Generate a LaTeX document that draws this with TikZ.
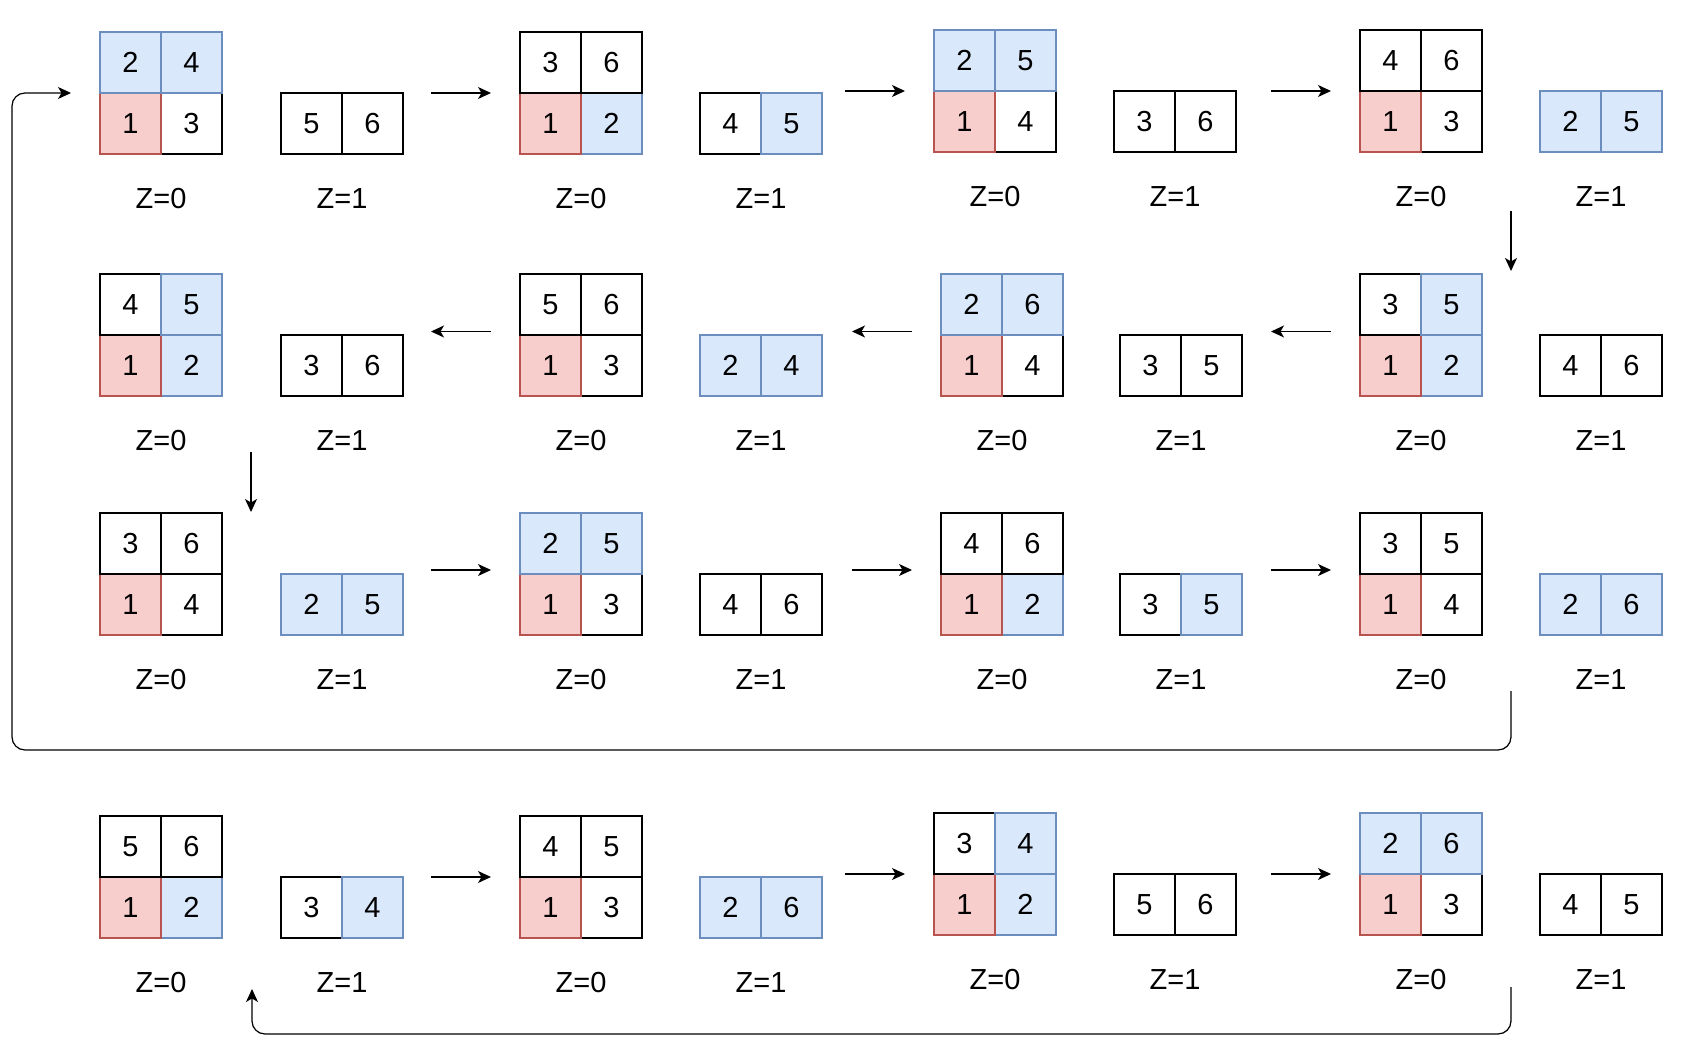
\documentclass[tikz,border=0pt]{standalone}
\usepackage{fontspec}
\setmainfont{Liberation Sans}
\usetikzlibrary{arrows.meta}

\begin{document}
\begin{tikzpicture}[x=0.02cm,y=-0.02cm,
  cell/.style={draw,line width=1.4pt,minimum size=1.22cm,inner sep=0pt,font=\fontsize{16.5}{19}\selectfont},
  wc/.style={cell,draw=cw,fill=cfw},
  bc/.style={cell,draw=cb,fill=cfb},
  rc/.style={cell,draw=cr,fill=cfr},
  lab/.style={inner sep=0pt,font=\fontsize{16.5}{19}\selectfont},
  flow/.style={->,line width=0.7pt,rounded corners=0.26cm},
  >={Stealth[length=0.26cm,width=0.24cm,inset=0.07cm]}]
%
\useasboundingbox (0,0) rectangle (1686,1060);
%
\definecolor{cw}{rgb}{0.0,0.0,0.0}
\definecolor{cfw}{rgb}{1.0,1.0,1.0}
\definecolor{cb}{rgb}{0.424,0.557,0.749}
\definecolor{cfb}{rgb}{0.855,0.910,0.988}
\definecolor{cr}{rgb}{0.722,0.329,0.314}
\definecolor{cfr}{rgb}{0.973,0.808,0.8}
%
% row 1
\node[wc] (r1g1br) at (191.5,123.5) {3};
\node[rc] (r1g1bl) at (130.5,123.5) {1};
\node[bc] (r1g1tl) at (130.5,62.5) {2};
\node[bc] (r1g1tr) at (191.5,62.5) {4};
\node[wc] (r1g1l) at (311.5,123.5) {5};
\node[wc] (r1g1r) at (372.5,123.5) {6};
\node[lab] (r1g1z0) at (161,199) {Z=0};
\node[lab] (r1g1z1) at (342,199) {Z=1};
%
\node[bc] (r1g2br) at (611.5,123.5) {2};
\node[rc] (r1g2bl) at (550.5,123.5) {1};
\node[wc] (r1g2tl) at (550.5,62.5) {3};
\node[wc] (r1g2tr) at (611.5,62.5) {6};
\node[wc] (r1g2l) at (730.5,123.5) {4};
\node[bc] (r1g2r) at (791.5,123.5) {5};
\node[lab] (r1g2z0) at (581,199) {Z=0};
\node[lab] (r1g2z1) at (761,199) {Z=1};
%
\node[wc] (r1g3br) at (1025.5,121.5) {4};
\node[rc] (r1g3bl) at (964.5,121.5) {1};
\node[bc] (r1g3tl) at (964.5,60.5) {2};
\node[bc] (r1g3tr) at (1025.5,60.5) {5};
\node[wc] (r1g3l) at (1144.5,121.5) {3};
\node[wc] (r1g3r) at (1205.5,121.5) {6};
\node[lab] (r1g3z0) at (995,197) {Z=0};
\node[lab] (r1g3z1) at (1175,197) {Z=1};
%
\node[wc] (r1g4br) at (1451.5,121.5) {3};
\node[rc] (r1g4bl) at (1390.5,121.5) {1};
\node[wc] (r1g4tl) at (1390.5,60.5) {4};
\node[wc] (r1g4tr) at (1451.5,60.5) {6};
\node[bc] (r1g4l) at (1570.5,121.5) {2};
\node[bc] (r1g4r) at (1631.5,121.5) {5};
\node[lab] (r1g4z0) at (1421,197) {Z=0};
\node[lab] (r1g4z1) at (1601,197) {Z=1};
%
% row 2
\node[bc] (r2g1br) at (191.5,365.5) {2};
\node[rc] (r2g1bl) at (130.5,365.5) {1};
\node[wc] (r2g1tl) at (130.5,304.5) {4};
\node[bc] (r2g1tr) at (191.5,304.5) {5};
\node[wc] (r2g1l) at (311.5,365.5) {3};
\node[wc] (r2g1r) at (372.5,365.5) {6};
\node[lab] (r2g1z0) at (161,441) {Z=0};
\node[lab] (r2g1z1) at (342,441) {Z=1};
%
\node[wc] (r2g2br) at (611.5,365.5) {3};
\node[rc] (r2g2bl) at (550.5,365.5) {1};
\node[wc] (r2g2tl) at (550.5,304.5) {5};
\node[wc] (r2g2tr) at (611.5,304.5) {6};
\node[bc] (r2g2l) at (730.5,365.5) {2};
\node[bc] (r2g2r) at (791.5,365.5) {4};
\node[lab] (r2g2z0) at (581,441) {Z=0};
\node[lab] (r2g2z1) at (761,441) {Z=1};
%
\node[wc] (r2g3br) at (1032.5,365.5) {4};
\node[rc] (r2g3bl) at (971.5,365.5) {1};
\node[bc] (r2g3tl) at (971.5,304.5) {2};
\node[bc] (r2g3tr) at (1032.5,304.5) {6};
\node[wc] (r2g3l) at (1150.5,365.5) {3};
\node[wc] (r2g3r) at (1211.5,365.5) {5};
\node[lab] (r2g3z0) at (1002,441) {Z=0};
\node[lab] (r2g3z1) at (1181,441) {Z=1};
%
\node[bc] (r2g4br) at (1451.5,365.5) {2};
\node[rc] (r2g4bl) at (1390.5,365.5) {1};
\node[wc] (r2g4tl) at (1390.5,304.5) {3};
\node[bc] (r2g4tr) at (1451.5,304.5) {5};
\node[wc] (r2g4l) at (1570.5,365.5) {4};
\node[wc] (r2g4r) at (1631.5,365.5) {6};
\node[lab] (r2g4z0) at (1421,441) {Z=0};
\node[lab] (r2g4z1) at (1601,441) {Z=1};
%
% row 3
\node[wc] (r3g1br) at (191.5,604.5) {4};
\node[rc] (r3g1bl) at (130.5,604.5) {1};
\node[wc] (r3g1tl) at (130.5,543.5) {3};
\node[wc] (r3g1tr) at (191.5,543.5) {6};
\node[bc] (r3g1l) at (311.5,604.5) {2};
\node[bc] (r3g1r) at (372.5,604.5) {5};
\node[lab] (r3g1z0) at (161,680) {Z=0};
\node[lab] (r3g1z1) at (342,680) {Z=1};
%
\node[wc] (r3g2br) at (611.5,604.5) {3};
\node[rc] (r3g2bl) at (550.5,604.5) {1};
\node[bc] (r3g2tl) at (550.5,543.5) {2};
\node[bc] (r3g2tr) at (611.5,543.5) {5};
\node[wc] (r3g2l) at (730.5,604.5) {4};
\node[wc] (r3g2r) at (791.5,604.5) {6};
\node[lab] (r3g2z0) at (581,680) {Z=0};
\node[lab] (r3g2z1) at (761,680) {Z=1};
%
\node[bc] (r3g3br) at (1032.5,604.5) {2};
\node[rc] (r3g3bl) at (971.5,604.5) {1};
\node[wc] (r3g3tl) at (971.5,543.5) {4};
\node[wc] (r3g3tr) at (1032.5,543.5) {6};
\node[wc] (r3g3l) at (1150.5,604.5) {3};
\node[bc] (r3g3r) at (1211.5,604.5) {5};
\node[lab] (r3g3z0) at (1002,680) {Z=0};
\node[lab] (r3g3z1) at (1181,680) {Z=1};
%
\node[wc] (r3g4br) at (1451.5,604.5) {4};
\node[rc] (r3g4bl) at (1390.5,604.5) {1};
\node[wc] (r3g4tl) at (1390.5,543.5) {3};
\node[wc] (r3g4tr) at (1451.5,543.5) {5};
\node[bc] (r3g4l) at (1570.5,604.5) {2};
\node[bc] (r3g4r) at (1631.5,604.5) {6};
\node[lab] (r3g4z0) at (1421,680) {Z=0};
\node[lab] (r3g4z1) at (1601,680) {Z=1};
%
% row 4
\node[bc] (r4g1br) at (191.5,907.5) {2};
\node[rc] (r4g1bl) at (130.5,907.5) {1};
\node[wc] (r4g1tl) at (130.5,846.5) {5};
\node[wc] (r4g1tr) at (191.5,846.5) {6};
\node[wc] (r4g1l) at (311.5,907.5) {3};
\node[bc] (r4g1r) at (372.5,907.5) {4};
\node[lab] (r4g1z0) at (161,983) {Z=0};
\node[lab] (r4g1z1) at (342,983) {Z=1};
%
\node[wc] (r4g2br) at (611.5,907.5) {3};
\node[rc] (r4g2bl) at (550.5,907.5) {1};
\node[wc] (r4g2tl) at (550.5,846.5) {4};
\node[wc] (r4g2tr) at (611.5,846.5) {5};
\node[bc] (r4g2l) at (730.5,907.5) {2};
\node[bc] (r4g2r) at (791.5,907.5) {6};
\node[lab] (r4g2z0) at (581,983) {Z=0};
\node[lab] (r4g2z1) at (761,983) {Z=1};
%
\node[bc] (r4g3br) at (1025.5,904.5) {2};
\node[rc] (r4g3bl) at (964.5,904.5) {1};
\node[wc] (r4g3tl) at (964.5,843.5) {3};
\node[bc] (r4g3tr) at (1025.5,843.5) {4};
\node[wc] (r4g3l) at (1144.5,904.5) {5};
\node[wc] (r4g3r) at (1205.5,904.5) {6};
\node[lab] (r4g3z0) at (995,980) {Z=0};
\node[lab] (r4g3z1) at (1175,980) {Z=1};
%
\node[wc] (r4g4br) at (1451.5,904.5) {3};
\node[rc] (r4g4bl) at (1390.5,904.5) {1};
\node[bc] (r4g4tl) at (1390.5,843.5) {2};
\node[bc] (r4g4tr) at (1451.5,843.5) {6};
\node[wc] (r4g4l) at (1570.5,904.5) {4};
\node[wc] (r4g4r) at (1631.5,904.5) {5};
\node[lab] (r4g4z0) at (1421,980) {Z=0};
\node[lab] (r4g4z1) at (1601,980) {Z=1};
%
% arrow ends
\coordinate (p11) at (431,93); \coordinate (q11) at (491,93);
\coordinate (p12) at (845,91); \coordinate (q12) at (905,91);
\coordinate (p13) at (1271,91); \coordinate (q13) at (1331,91);
\coordinate (pd1) at (1511,211); \coordinate (qd1) at (1511,271);
\coordinate (p21) at (491,331.5); \coordinate (q21) at (431,331.5);
\coordinate (p22) at (912,331.5); \coordinate (q22) at (852,331.5);
\coordinate (p23) at (1331,331.5); \coordinate (q23) at (1271,331.5);
\coordinate (pd2) at (251,452); \coordinate (qd2) at (251,512);
\coordinate (p31) at (431,570); \coordinate (q31) at (491,570);
\coordinate (p32) at (852,570); \coordinate (q32) at (912,570);
\coordinate (p33) at (1271,570); \coordinate (q33) at (1331,570);
\coordinate (pl1) at (1511,691); \coordinate (ql1) at (71,93);
\coordinate (p41) at (431,877); \coordinate (q41) at (491,877);
\coordinate (p42) at (845,874); \coordinate (q42) at (905,874);
\coordinate (p43) at (1271,874); \coordinate (q43) at (1331,874);
\coordinate (pl2) at (1511,987); \coordinate (ql2) at (252,989);
%
\draw[flow] (p11) -- (q11);
\draw[flow] (p12) -- (q12);
\draw[flow] (p13) -- (q13);
\draw[flow] (pd1) -- (qd1);
\draw[flow] (p21) -- (q21);
\draw[flow] (p22) -- (q22);
\draw[flow] (p23) -- (q23);
\draw[flow] (pd2) -- (qd2);
\draw[flow] (p31) -- (q31);
\draw[flow] (p32) -- (q32);
\draw[flow] (p33) -- (q33);
\draw[flow] (pl1) -- (1511,750) -- (12,750) |- (ql1);
\draw[flow] (p41) -- (q41);
\draw[flow] (p42) -- (q42);
\draw[flow] (p43) -- (q43);
\draw[flow] (pl2) -- (1511,1034) -| (ql2);
%
\end{tikzpicture}
\end{document}
